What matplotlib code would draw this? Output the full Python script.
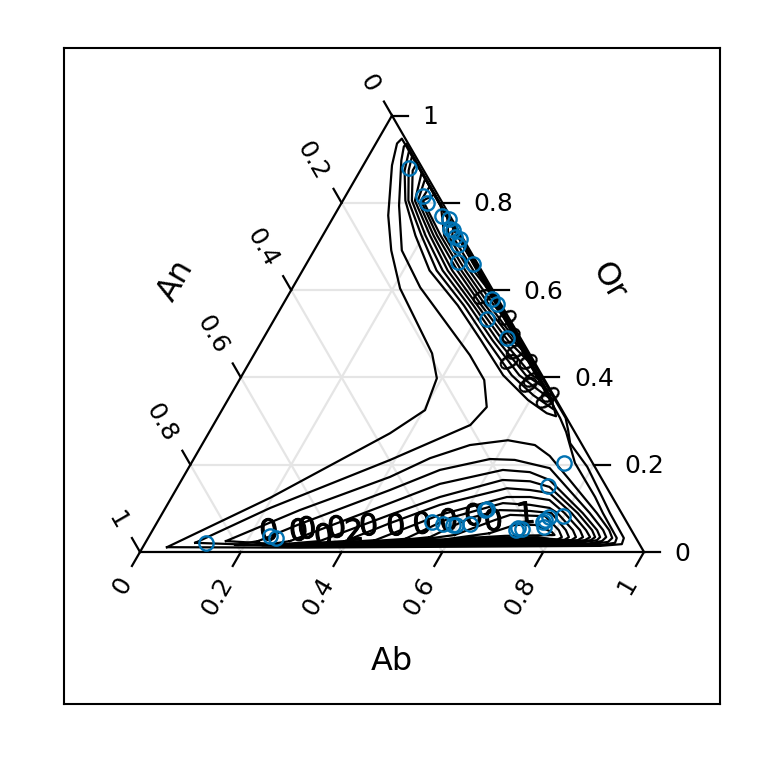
import numpy as np
import matplotlib
matplotlib.use("Agg")
import matplotlib.pyplot as plt
import matplotlib.patheffects as pe

tick_values = [0, 0.2, 0.4, 0.6, 0.8, 1]
tick_labels = ["0", "0.2", "0.4", "0.6", "0.8", "1"]
axis_titles = ["Ab", "An", "Or"]

point_ab = [.094,.154,.170,.215,.232,.244,.253,.264,.277,.279,.299,.331,.409,.424,.422,.483,
            .120,.240,.254,.545,.569,.590,.596,.623,.637,.639,.721,.723,.732,.765,.767,.772,.773,.798,.734,.739]
point_or = [.879,.815,.799,.769,.762,.741,.737,.721,.716,.703,.664,.659,.579,.568,.533,.490,
            .021,.037,.032,.069,.064,.062,.062,.064,.096,.098,.050,.055,.053,.069,.073,.080,.057,.082,.151,.204]

# outer contours, joined across both lobes
c1_ab = [.048,.196,.360,.403,.390,.352,.214,.153,.107,.057,.042,.046,.691,.710,.729,.790,.854,.888,.944,.947,.906,.312,.048]
c1_or = [.011,.124,.272,.325,.398,.455,.604,.691,.771,.886,.936,.947,.307,.279,.249,.195,.126,.089,.032,.018,.014,.010,.011]
c2_ab = [.099,.208,.391,.510,.522,.486,.429,.253,.174,.117,.070,.059,.061,.680,.708,.761,.840,.874,.930,.932,.905,.311,.099]
c2_or = [.021,.101,.211,.291,.332,.394,.451,.606,.691,.794,.897,.929,.935,.307,.275,.204,.126,.089,.032,.021,.016,.0126,.021]

# lower lobe contours
l3_ab = [.158,.269,.410,.468,.532,.602,.661,.703,.770,.862,.906,.921,.917,.884,.309,.158]
l3_or = [.025,.096,.172,.215,.245,.256,.245,.220,.165,.089,.050,.032,.023,.018,.015,.025]
l4_ab = [.222,.285,.425,.501,.588,.638,.717,.848,.894,.908,.904,.874,.309,.180,.222]
l4_or = [.025,.064,.142,.188,.213,.211,.192,.089,.050,.034,.025,.018,.016,.016,.025]
l5_ab = [.285,.440,.517,.626,.682,.730,.834,.882,.896,.893,.862,.348,.235,.285]
l5_or = [.025,.112,.156,.188,.183,.165,.089,.050,.034,.027,.021,.017,.015,.025]
l6_ab = [.344,.453,.532,.637,.693,.738,.824,.872,.886,.881,.851,.387,.254,.344]
l6_or = [.025,.085,.126,.165,.162,.149,.089,.050,.034,.027,.023,.019,.016,.025]
l7_ab = [.394,.463,.541,.655,.703,.745,.812,.860,.876,.869,.837,.435,.280,.394]
l7_or = [.025,.066,.108,.146,.142,.135,.089,.050,.034,.027,.024,.022,.017,.025]
l8_ab = [.453,.552,.665,.711,.753,.798,.848,.862,.855,.820,.494,.328,.453]
l8_or = [.027,.085,.126,.126,.119,.089,.050,.034,.027,.026,.024,.018,.027]
l9_ab = [.511,.576,.664,.720,.762,.784,.834,.848,.842,.803,.552,.396,.511]
l9_or = [.030,.078,.112,.108,.101,.089,.050,.034,.027,.029,.026,.021,.030]
l10_ab = [.558,.616,.666,.727,.772,.820,.834,.828,.788,.600,.465,.558]
l10_or = [.034,.078,.096,.094,.089,.050,.034,.027,.031,.029,.023,.034]
l11_ab = [.605,.667,.692,.763,.806,.820,.813,.773,.649,.524,.605]
l11_or = [.039,.073,.085,.082,.050,.034,.027,.034,.032,.025,.039]
l12_ab = [.672,.713,.753,.794,.803,.766,.706,.591,.672]
l12_or = [.043,.062,.062,.046,.039,.038,.037,.029,.043]

# upper lobe contours
u3_ab = [.074,.088,.124,.184,.252,.348,.434,.518,.596,.648,.670,.652,.074]
u3_or = [.920,.874,.805,.725,.645,.565,.485,.405,.348,.318,.311,.336,.920]
u4_ab = [.086,.096,.130,.196,.266,.360,.446,.535,.601,.657,.644,.086]
u4_or = [.908,.874,.805,.725,.645,.565,.485,.405,.359,.327,.348,.908]
u5_ab = [.104,.104,.137,.204,.278,.370,.457,.550,.605,.644,.104]
u5_or = [.890,.874,.805,.725,.645,.565,.485,.405,.371,.348,.890]
u6_ab = [.124,.143,.213,.288,.379,.467,.563,.617,.124]
u6_or = [.870,.805,.725,.645,.565,.485,.405,.375,.870]
u7_ab = [.138,.149,.220,.297,.387,.477,.575,.598,.138]
u7_or = [.856,.805,.725,.645,.565,.485,.405,.394,.856]
u8_ab = [.156,.155,.227,.307,.395,.487,.564,.156]
u8_or = [.838,.805,.725,.645,.565,.485,.428,.838]
u9_ab = [.175,.159,.234,.315,.403,.497,.543,.175]
u9_or = [.819,.805,.725,.645,.565,.485,.451,.819]
u10_ab = [.200,.241,.323,.411,.503,.521,.200]
u10_or = [.794,.725,.645,.565,.485,.474,.794]
u11_ab = [.224,.249,.331,.420,.476,.224]
u11_or = [.771,.725,.645,.565,.519,.771]
u12_ab = [.248,.257,.339,.419,.248]
u12_or = [.748,.725,.645,.577,.748]

# contour labels, mostly buried under the lines
lower_label_text = ["0","0","0","0","0","2","0","0","0","0","0","0","1"]
lower_label_ab = [.233,.292,.306,.347,.364,.402,.425,.479,.529,.578,.622,.667,.723]
lower_label_or = [.046,.046,.051,.035,.053,.046,.058,.058,.062,.069,.081,.069,.085]
upper_label_ab = [.379,.453,.483,.508,.507,.544,.574,.571,.624,.627]
upper_label_or = [.581,.531,.490,.432,.455,.432,.389,.378,.341,.355]

H = np.sqrt(3) / 2
def cart(ab, orth):
    ab, orth = np.asarray(ab, float), np.asarray(orth, float)
    return ab + orth / 2, orth * H

fig = plt.figure(figsize=(7.68, 7.68), dpi=100)
ax = fig.add_axes([64/768, 64/768, 656/768, 656/768])
ax.set_xlim(-0.1508, 1.1508)
ax.set_ylim(-0.3016, 1.0)
ax.set_xticks([]); ax.set_yticks([])
for s in ax.spines.values():
    s.set_linewidth(1.5)

LW = 1.6
grid = "#E5E5E5"
for v in tick_values[1:-1]:
    for p, q in [((v, 0), (v, 1 - v)), ((0, v), (1 - v, v)), ((1 - v, 0), (0, 1 - v))]:
        x, y = cart([p[0], q[0]], [p[1], q[1]])
        ax.plot(x, y, color=grid, lw=LW, zorder=1, solid_capstyle="butt")

x, y = cart([0, 1, 0, 0], [0, 0, 1, 0])
ax.plot(x, y, color="k", lw=LW, zorder=2, solid_joinstyle="miter")

contours = [(c1_ab, c1_or), (c2_ab, c2_or),
            (l3_ab, l3_or), (l4_ab, l4_or), (l5_ab, l5_or), (l6_ab, l6_or), (l7_ab, l7_or),
            (l8_ab, l8_or), (l9_ab, l9_or), (l10_ab, l10_or), (l11_ab, l11_or), (l12_ab, l12_or),
            (u3_ab, u3_or), (u4_ab, u4_or), (u5_ab, u5_or), (u6_ab, u6_or), (u7_ab, u7_or),
            (u8_ab, u8_or), (u9_ab, u9_or), (u10_ab, u10_or), (u11_ab, u11_or), (u12_ab, u12_or)]
for a, o in contours:
    x, y = cart(a, o)
    ax.plot(x, y, color="k", lw=LW, zorder=3, solid_joinstyle="round")

bold = [pe.withStroke(linewidth=0.7, foreground="k")]
for t, a, o in zip(lower_label_text, lower_label_ab, lower_label_or):
    x, y = cart(a, o)
    ax.text(x, y, t, fontsize=21.5, ha="center", va="center", rotation=5, zorder=4, color="k", path_effects=bold)
for a, o in zip(upper_label_ab, upper_label_or):
    x, y = cart(a, o)
    ax.text(x, y, "0", fontsize=19, ha="center", va="center", rotation=-60, zorder=4, color="k")

x, y = cart(point_ab, point_or)
ax.plot(x, y, ls="none", marker="o", ms=10.3, mfc="none", mec="#0072B2", mew=1.7, zorder=5)

TL = 0.032
OFF = 0.063
FS = 18
for v, lab in zip(tick_values, tick_labels):
    # bottom axis
    bx, by = cart(v, 0)
    dx, dy = -0.5, -H
    ax.plot([bx, bx + TL*dx], [by, by + TL*dy], color="k", lw=LW, zorder=2)
    ax.text(bx + OFF*dx + 0.005, by + OFF*dy + 0.002, lab, fontsize=FS, rotation=60, rotation_mode="anchor", ha="right", va="center")
    # left axis (An): 0 at the apex, 1 at bottom left
    bx, by = cart(0, 1 - v)
    dx, dy = -0.5, H
    ax.plot([bx, bx + TL*dx], [by, by + TL*dy], color="k", lw=LW, zorder=2)
    ax.text(bx + OFF*dx - 0.006, by + OFF*dy - 0.005, lab, fontsize=FS, rotation=-60, rotation_mode="anchor", ha="right", va="center")
    # right axis (Or)
    bx, by = cart(1 - v, v)
    ax.plot([bx, bx + TL], [by, by], color="k", lw=LW, zorder=2)
    ax.text(bx + 0.061, by - 0.003, lab, fontsize=FS, ha="left", va="center")

ax.text(0.5, -0.2165, axis_titles[0], fontsize=23, ha="center", va="center")
ax.text(0.0705, 0.5387, axis_titles[1], fontsize=23, ha="center", va="center", rotation=60)
ax.text(0.9285, 0.5377, axis_titles[2], fontsize=23, ha="center", va="center", rotation=-60)

fig.savefig("out.png", dpi=100)
